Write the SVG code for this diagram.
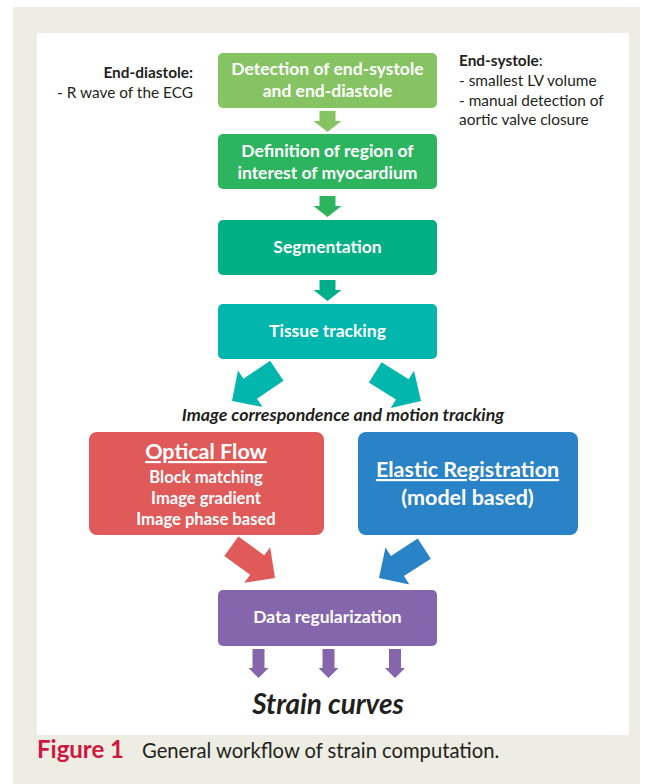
<svg xmlns="http://www.w3.org/2000/svg" xmlns:xlink="http://www.w3.org/1999/xlink" width="653" height="784" viewBox="0 0 653 784">
<style>
text{font-family:Lato,"Open Sans","Liberation Sans",sans-serif}
.bt{font-weight:bold;fill:#fff;font-size:17.5px;text-anchor:middle}
.sub{font-weight:bold;fill:#fff;font-size:16.6px;text-anchor:middle}
.big{font-weight:bold;fill:#fff;font-size:21.5px;text-anchor:middle}
.note{font-size:15.4px;fill:#231f20}
.b{font-weight:bold}
.box{stroke:none}
</style>
<defs>
<path id="diag" d="M-12,-54 L12,-54 L12,-22 L22,-22 L0,0 L-22,-22 L-12,-22 Z"/>
<path id="small" d="M-8,0 L8,0 L8,10 L14,10 L0,21 L-14,10 L-8,10 Z"/>
<path id="psmall" d="M-6,0 L6,0 L6,19 L10,19 L0,29 L-10,19 L-6,19 Z"/>
</defs>
<rect x="0" y="0" width="653" height="784" fill="#fff"/>
<rect x="13" y="7" width="627" height="777" fill="#eeede3"/>
<rect x="37" y="33" width="592" height="702" fill="#fff"/>

<g id="connectors">
<use xlink:href="#small" transform="translate(327.5,111)" fill="#86c363"/>
<use xlink:href="#small" transform="translate(327.5,196)" fill="#2db45f"/>
<use xlink:href="#small" transform="translate(327.5,280)" fill="#00af8a"/>
<use xlink:href="#diag" transform="translate(232,401) rotate(56)" fill="#00b6ad"/>
<use xlink:href="#diag" transform="translate(421,401) rotate(-58)" fill="#00b6ad"/>
<use xlink:href="#diag" transform="translate(275,578) rotate(-54)" fill="#e05a59"/>
<use xlink:href="#diag" transform="translate(379,578) rotate(57)" fill="#2a83c6"/>
<use xlink:href="#psmall" transform="translate(258.5,649)" fill="#8566ac"/>
<use xlink:href="#psmall" transform="translate(328.5,649)" fill="#8566ac"/>
<use xlink:href="#psmall" transform="translate(395,649)" fill="#8566ac"/>
</g>

<g id="note-diastole">
<text class="note b" x="193" y="78" text-anchor="end">End-diastole:</text>
<text class="note" x="193" y="98" text-anchor="end">- R wave of the ECG</text>
</g>
<g id="note-systole">
<text class="note" x="459" y="66"><tspan class="b">End-systole</tspan>:</text>
<text class="note" x="459" y="86">- smallest LV volume</text>
<text class="note" x="459" y="106">- manual detection of</text>
<text class="note" x="459" y="125">aortic valve closure</text>
</g>

<g id="detection">
<rect class="box" x="218" y="53" width="219" height="55" rx="5" fill="#86c363"/>
<text class="bt" x="327.5" y="75">Detection of end-systole</text>
<text class="bt" x="327.5" y="97">and end-diastole</text>
</g>
<g id="definition">
<rect class="box" x="218" y="134" width="219" height="55" rx="5" fill="#2db45f"/>
<text class="bt" x="327.5" y="157">Definition of region of</text>
<text class="bt" x="327.5" y="179">interest of myocardium</text>
</g>
<g id="segmentation">
<rect class="box" x="218" y="220" width="219" height="55" rx="5" fill="#00af84"/>
<text class="bt" x="327.5" y="253">Segmentation</text>
</g>
<g id="tissue">
<rect class="box" x="218" y="304" width="219" height="55" rx="5" fill="#00b6ad"/>
<text class="bt" x="327.5" y="337">Tissue tracking</text>
</g>

<text x="343" y="421" text-anchor="middle" font-size="17.8" font-weight="bold" font-style="italic" fill="#231f20">Image correspondence and motion tracking</text>

<g id="optical">
<rect class="box" x="89" y="432" width="235" height="103" rx="8" fill="#e05a59"/>
<text class="big" x="206" y="459" text-decoration="underline">Optical Flow</text>
<text class="sub" x="206" y="483">Block matching</text>
<text class="sub" x="206" y="504">Image gradient</text>
<text class="sub" x="206" y="525">Image phase based</text>
</g>
<g id="elastic">
<rect class="box" x="358" y="432" width="220" height="103" rx="8" fill="#2a83c6"/>
<text class="big" x="467.5" y="477" text-decoration="underline">Elastic Registration</text>
<text class="big" x="467.5" y="505">(model based)</text>
</g>
<g id="regularization">
<rect class="box" x="218" y="590" width="219" height="56" rx="5" fill="#8566ac"/>
<text class="bt" x="327.5" y="623" font-size="17.9">Data regularization</text>
</g>

<text x="328" y="714" text-anchor="middle" font-size="27.9" font-weight="bold" font-style="italic" fill="#231f20">Strain curves</text>

<text x="37" y="758" font-size="24" font-weight="bold" fill="#d0173f">Figure 1</text>
<text x="142" y="758" font-size="20.2" fill="#231f20">General workflow of strain computation.</text>
</svg>
